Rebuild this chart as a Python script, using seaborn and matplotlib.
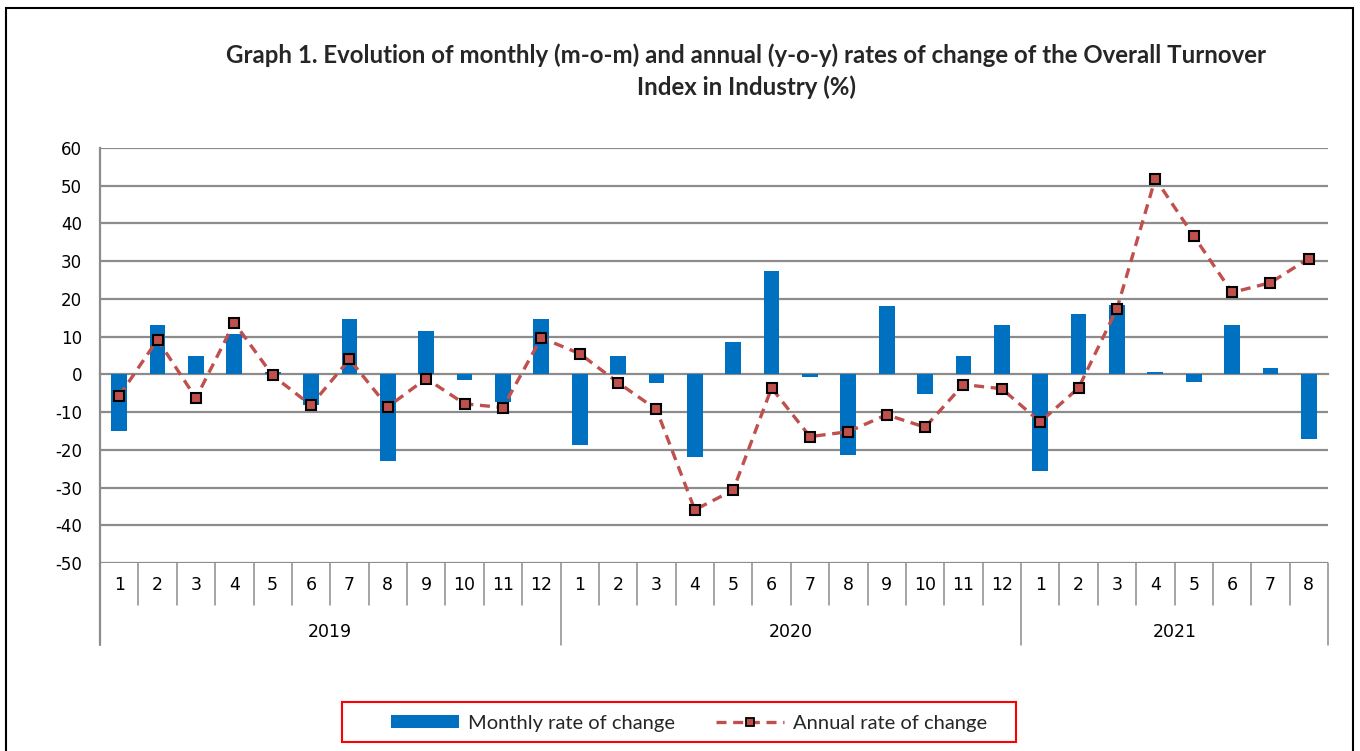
import numpy as np
import pandas as pd
import matplotlib
matplotlib.use("Agg")
import matplotlib.pyplot as plt
from matplotlib.patches import Rectangle, Patch
from matplotlib.lines import Line2D
import matplotlib.transforms as mtransforms
import seaborn as sns

years = ["2019", "2020", "2021"]
months_per_year = [12, 12, 8]
month_labels = [str(m) for n in months_per_year for m in range(1, n + 1)]
monthly = [-15.1, 13.2, 4.8, 10.7, 0.6, -8.2, 14.8, -23.0, 11.6, -1.4, -7.2, 14.8,
           -18.8, 4.8, -2.4, -21.9, 8.5, 27.4, -0.8, -21.4, 18.0, -5.1, 4.8, 13.2,
           -25.7, 15.9, 18.5, 0.6, -1.9, 13.2, 1.7, -17.2]
annual = [-5.7, 9.2, -6.3, 13.7, -0.3, -8.2, 4.0, -8.6, -1.1, -7.8, -8.8, 9.7,
          5.5, -2.2, -9.3, -35.9, -30.7, -3.6, -16.5, -15.2, -10.7, -14.0, -2.7, -3.8,
          -12.6, -3.6, 17.4, 51.9, 36.7, 21.7, 24.3, 30.7]
yticks = list(range(-50, 61, 10))
title = ("Graph 1. Evolution of monthly (m-o-m) and annual (y-o-y) rates of change of the Overall Turnover\n"
         "Index in Industry (%)")
legend_labels = ["Monthly rate of change", "Annual rate of change"]

year_of = [y for y, n in zip(years, months_per_year) for _ in range(n)]
df = pd.DataFrame({
    "key": [f"{y}-{m}" for y, m in zip(year_of, month_labels)],
    "month": month_labels,
    "year": year_of,
    "monthly": monthly,
    "annual": annual,
})
df["pos"] = np.arange(len(df))

sns.set_theme(style="white")
plt.rcParams["font.family"] = ["DejaVu Sans"]

W, H = 1360, 751
fig = plt.figure(figsize=(W / 100, H / 100), dpi=100)
L, R, T, B = 100, 1328, 148, 563
ax = fig.add_axes([L / W, 1 - B / H, (R - L) / W, (B - T) / H])

BLUE = "#0070C0"
RED = "#C0504D"
GRID = "#8C8C8C"

sns.barplot(data=df, x="key", y="monthly", color=BLUE, saturation=1, width=0.41,
            ax=ax, linewidth=0, zorder=3)
sns.lineplot(data=df, x="pos", y="annual", ax=ax, color=RED, lw=2.4,
             linestyle=(0, (3, 2)), marker="s", markersize=7.5,
             markerfacecolor=RED, markeredgecolor="black", markeredgewidth=1.5,
             zorder=4)

n = len(df)
ax.set_xlim(-0.5, n - 0.5)
ax.set_ylim(-50, 60)
ax.set_yticks(yticks)
ax.set_yticklabels([str(v) for v in yticks], fontsize=12)
ax.set_xlabel("")
ax.set_ylabel("")
for yv in yticks:
    if yv != 0:
        ax.axhline(yv, color=GRID, lw=1.6, zorder=1)

for s in ["top", "right"]:
    ax.spines[s].set_visible(False)
ax.spines["left"].set_color(GRID)
ax.spines["left"].set_linewidth(1.6)
ax.spines["bottom"].set_position(("data", 0))
ax.spines["bottom"].set_color(GRID)
ax.spines["bottom"].set_linewidth(1.6)
ax.spines["bottom"].set_zorder(2)

ax.set_xticks(np.arange(n))
ax.set_xticks(np.arange(n + 1) - 0.5, minor=True)
ax.tick_params(axis="x", which="major", direction="out", length=4, width=1.5,
               color=GRID, labelbottom=False)
ax.tick_params(axis="x", which="minor", direction="in", length=4, width=1.5,
               color=GRID)
ax.tick_params(axis="y", length=0, pad=13, labelcolor="black")

# category table below the plot
trans = mtransforms.blended_transform_factory(ax.transData, ax.transAxes)
ph = B - T
row1 = -(605 - B) / ph
row2 = -(645 - B) / ph
ax.plot([-0.5, -0.5], [row2, 0], transform=trans, color=GRID, lw=1.6, clip_on=False)
boundaries = np.cumsum([0] + months_per_year) - 0.5
for i in range(1, n + 1):
    xb = i - 0.5
    bottom = row2 if np.isclose(boundaries, xb).any() else row1
    ax.plot([xb, xb], [bottom, 0], transform=trans, color=GRID, lw=1.1, clip_on=False)
for i, lab in enumerate(month_labels):
    ax.text(i, -(585 - B) / ph, lab, transform=trans, ha="center", va="center",
            fontsize=12.5, color="black")
for k, yname in enumerate(years):
    xc = (boundaries[k] + boundaries[k + 1]) / 2
    ax.text(xc, -(632 - B) / ph, yname, transform=trans, ha="center", va="center",
            fontsize=12.5, color="black")

fig.text(746 / W, 1 - 71 / H, title, ha="center", va="center", fontsize=17.3,
         fontweight="bold", family=["Lato", "DejaVu Sans"], linespacing=1.4)

handles = [Patch(facecolor=BLUE, edgecolor="none"),
           Line2D([0], [0], color=RED, lw=2.4, linestyle=(0, (3, 2)), marker="s",
                  markersize=6, markerfacecolor=RED, markeredgecolor="black",
                  markeredgewidth=1.3)]
leg = fig.legend(handles, legend_labels, loc="center",
                 bbox_to_anchor=(689 / W, 1 - 723 / H), ncol=2, frameon=False,
                 prop={"family": ["Lato", "DejaVu Sans"], "size": 14.5},
                 handlelength=3.4, handleheight=0.65, columnspacing=2.0,
                 borderpad=0.3, handletextpad=0.45)

# red legend border and outer chart border
fig.patches.append(Rectangle((342 / W, 1 - 742 / H), (1016 - 342) / W, 40 / H,
                             transform=fig.transFigure, fill=False,
                             edgecolor="#FF0000", lw=1.5))
fig.patches.append(Rectangle((6 / W, -0.05), (1353 - 6) / W, 1 - 8 / H + 0.05,
                             transform=fig.transFigure, fill=False,
                             edgecolor="black", lw=1.5))

fig.savefig("out.png", dpi=100)
